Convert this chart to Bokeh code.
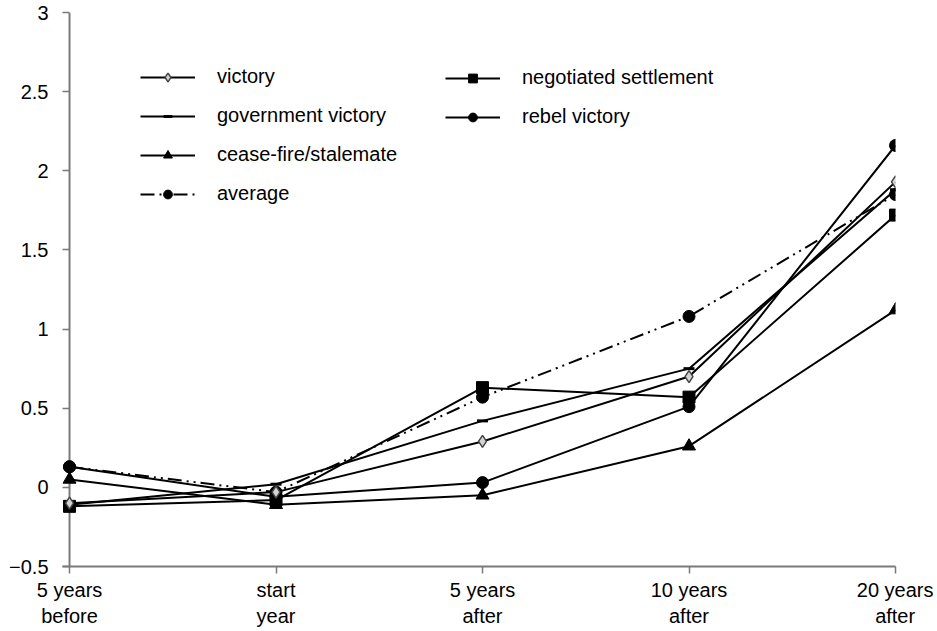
from bokeh.plotting import figure
from bokeh.models import Range1d, FixedTicker, Span, Legend, LegendItem
from bokeh.embed import file_html
from bokeh.resources import INLINE

periods = ["5 years\nbefore", "start\nyear", "5 years\nafter", "10 years\nafter", "20 years\nafter"]
y_ticks = [-0.5, 0, 0.5, 1, 1.5, 2, 2.5, 3]
y_tick_labels = ["\u22120.5", "0", "0.5", "1", "1.5", "2", "2.5", "3"]

victory = [-0.10, -0.03, 0.29, 0.70, 1.93]
government_victory = [-0.11, 0.02, 0.42, 0.75, 1.88]
ceasefire = [0.05, -0.11, -0.05, 0.26, 1.12]
negotiated = [-0.12, -0.08, 0.63, 0.57, 1.72]
rebel_victory = [0.13, -0.06, 0.03, 0.51, 2.16]
average = [0.13, -0.03, 0.57, 1.08, 1.85]

xs = list(range(len(periods)))
FONT = "Liberation Sans"
FS = "20px"

p = figure(width=933, height=630, output_backend="svg", toolbar_location=None,
           x_range=Range1d(-0.034, 4), y_range=Range1d(-0.5, 3),
           min_border_left=62, min_border_right=38, min_border_top=12, min_border_bottom=64)
p.outline_line_color = None
p.xgrid.visible = False
p.ygrid.visible = False
p.background_fill_color = "white"

AX = "#7a7a7a"
# x axis
p.xaxis.ticker = FixedTicker(ticks=xs)
p.xaxis.major_label_overrides = {i: lab for i, lab in enumerate(periods)}
p.xaxis.axis_line_color = AX
p.xaxis.axis_line_width = 2
p.xaxis.major_tick_line_color = AX
p.xaxis.major_tick_line_width = 1.5
p.xaxis.major_tick_in = 0
p.xaxis.major_tick_out = 7
p.xaxis.minor_tick_line_color = None
p.xaxis.major_label_standoff = 5
p.xaxis.major_label_text_font = FONT
p.xaxis.major_label_text_font_size = FS
p.xaxis.major_label_text_color = "black"

# y axis
p.yaxis.ticker = FixedTicker(ticks=y_ticks)
p.yaxis.major_label_overrides = {t: l for t, l in zip(y_ticks, y_tick_labels)}
p.yaxis.axis_line_color = None
p.yaxis.major_tick_line_color = AX
p.yaxis.major_tick_line_width = 1.5
p.yaxis.major_tick_in = 7
p.yaxis.major_tick_out = 0
p.yaxis.minor_tick_line_color = None
p.yaxis.major_label_standoff = 14
p.yaxis.major_label_text_font = FONT
p.yaxis.major_label_text_font_size = FS
p.yaxis.major_label_text_color = "black"

yline = Span(location=0, dimension="height", line_color=AX, line_width=2, level="underlay")
p.add_layout(yline)

LW = 2
# average
avg_l = p.line(xs, average, line_color="black", line_width=LW, line_dash="14 5 2 5 2 5")
avg_m = p.scatter(xs, average, marker="circle", size=12, fill_color="black", line_color="black")
# cease-fire
cf_l = p.line(xs, ceasefire, line_color="black", line_width=LW)
cf_m = p.scatter(xs, ceasefire, marker="triangle", size=13, fill_color="black", line_color="black")
# rebel victory
rv_l = p.line(xs, rebel_victory, line_color="black", line_width=LW)
rv_m = p.scatter(xs, rebel_victory, marker="circle", size=12, fill_color="black", line_color="black")
# negotiated settlement
ns_l = p.line(xs, negotiated, line_color="black", line_width=LW)
ns_m = p.scatter(xs, negotiated, marker="square", size=12, fill_color="black", line_color="black")
# government victory
gv_l = p.line(xs, government_victory, line_color="black", line_width=LW)
gv_m = p.scatter(xs, government_victory, marker="dash", size=11, line_color="black", line_width=3)
# victory
v_l = p.line(xs, victory, line_color="black", line_width=LW)
v_m = p.scatter(xs, victory, marker="diamond", size=12, fill_color="#d4d4d4", line_color="#444444", line_width=1.5)

def make_legend(items, loc):
    lg = Legend(items=items, location=loc, orientation="vertical")
    lg.border_line_color = None
    lg.background_fill_alpha = 0
    lg.padding = 0
    lg.margin = 0
    lg.spacing = 16
    lg.glyph_width = 55
    lg.glyph_height = 22
    lg.label_height = 22
    lg.label_standoff = 22
    lg.label_text_font = FONT
    lg.label_text_font_size = FS
    lg.label_text_color = "black"
    return lg

leg1 = make_legend([
    LegendItem(label="victory", renderers=[v_l, v_m]),
    LegendItem(label="government victory", renderers=[gv_l, gv_m]),
    LegendItem(label="cease-fire/stalemate", renderers=[cf_l, cf_m]),
    LegendItem(label="average", renderers=[avg_l, avg_m]),
], (78, 361))
leg2 = make_legend([
    LegendItem(label="negotiated settlement", renderers=[ns_l, ns_m]),
    LegendItem(label="rebel victory", renderers=[rv_l, rv_m]),
], (383, 438))
p.add_layout(leg1)
p.add_layout(leg2)

open("out.html", "w").write(file_html(p, INLINE))
